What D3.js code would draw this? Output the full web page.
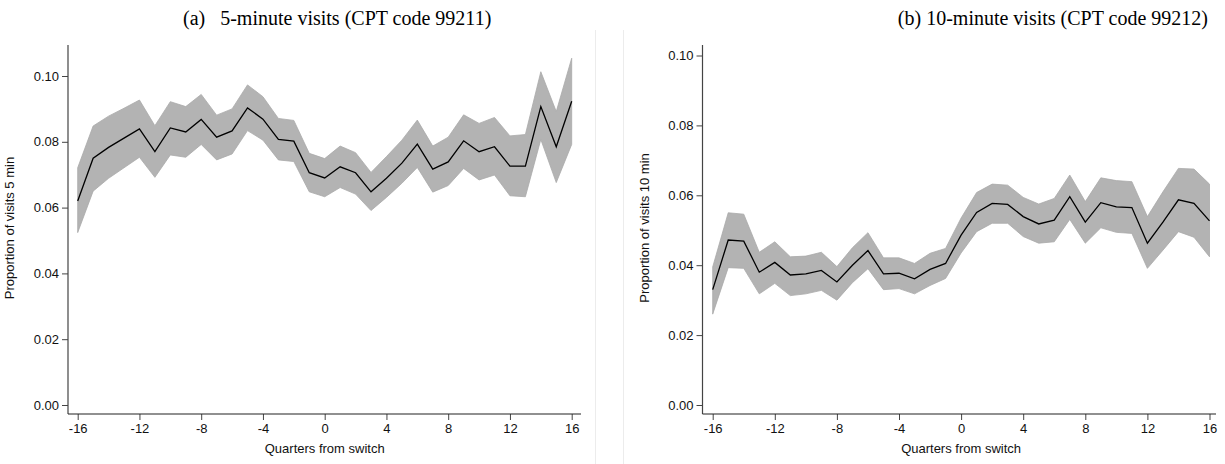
<!DOCTYPE html>
<html><head><meta charset="utf-8">
<script src="https://cdn.jsdelivr.net/npm/d3@7"></script>
<style>body{margin:0;background:#fff}svg{display:block}</style>
</head><body>
<svg id="c" width="1225" height="464"></svg>
<script>
const quarters = d3.range(-16, 17);
const xTicks = [-16,-12,-8,-4,0,4,8,12,16];
const yTicks = [0,0.02,0.04,0.06,0.08,0.10];

// Panel (a): 5-minute visits
const mean5 = [0.0620,0.0750,0.0783,0.0811,0.0839,0.0770,0.0842,0.0830,0.0868,0.0814,0.0833,0.0903,0.0869,0.0807,0.0802,0.0706,0.0690,
               0.0724,0.0706,0.0648,0.0689,0.0735,0.0793,0.0717,0.0739,0.0803,0.0770,0.0785,0.0726,0.0726,0.0907,0.0785,0.0923];
const upper5 = [0.0721,0.0848,0.0878,0.0902,0.0927,0.0849,0.0922,0.0907,0.0944,0.0881,0.0900,0.0973,0.0937,0.0871,0.0865,0.0765,0.0749,
                0.0787,0.0767,0.0707,0.0755,0.0805,0.0866,0.0787,0.0814,0.0882,0.0856,0.0874,0.0818,0.0822,0.1013,0.0892,0.1054];
const lower5 = [0.0524,0.0650,0.0689,0.0721,0.0753,0.0692,0.0760,0.0753,0.0792,0.0745,0.0763,0.0834,0.0805,0.0745,0.0740,0.0648,0.0633,
                0.0661,0.0641,0.0591,0.0631,0.0674,0.0722,0.0647,0.0667,0.0719,0.0684,0.0699,0.0636,0.0633,0.0807,0.0676,0.0792];

// Panel (b): 10-minute visits
const mean10 = [0.0330,0.0472,0.0469,0.0380,0.0408,0.0372,0.0375,0.0385,0.0352,0.0400,0.0442,0.0375,0.0377,0.0361,0.0388,0.0405,0.0486,
                0.0551,0.0577,0.0574,0.0539,0.0518,0.0529,0.0596,0.0523,0.0579,0.0567,0.0565,0.0463,0.0523,0.0587,0.0577,0.0527];
const upper10 = [0.0395,0.0550,0.0546,0.0437,0.0467,0.0424,0.0426,0.0437,0.0396,0.0450,0.0493,0.0421,0.0421,0.0405,0.0434,0.0448,0.0535,
                 0.0608,0.0632,0.0629,0.0594,0.0575,0.0591,0.0658,0.0582,0.0650,0.0642,0.0639,0.0539,0.0610,0.0677,0.0675,0.0632];
const lower10 = [0.0260,0.0393,0.0391,0.0318,0.0348,0.0313,0.0318,0.0328,0.0300,0.0350,0.0390,0.0330,0.0333,0.0318,0.0342,0.0362,0.0435,
                 0.0496,0.0520,0.0520,0.0482,0.0463,0.0467,0.0531,0.0463,0.0507,0.0494,0.0491,0.0391,0.0443,0.0496,0.0480,0.0424];

const svg = d3.select("#c");

// faint panel borders
svg.append("line").attr("x1",595.5).attr("x2",595.5).attr("y1",30).attr("y2",464).attr("stroke","#ececec");
svg.append("line").attr("x1",623.5).attr("x2",623.5).attr("y1",30).attr("y2",464).attr("stroke","#ececec");

function panel(opts){
  const {xL, xR, axX, axEnd, yTop, y0, y10, mean, upper, lower, ylab, title, titleX, titleAnchor} = opts;
  const x = d3.scaleLinear().domain([-16,16]).range([xL,xR]);
  const y = d3.scaleLinear().domain([0,0.10]).range([y0,y10]);
  const g = svg.append("g");
  const axisY = 414;
  const rows = quarters.map((q,i)=>({q, m:mean[i], u:upper[i], l:lower[i]}));
  g.append("path").datum(rows)
    .attr("d", d3.area().x(d=>x(d.q)).y0(d=>y(d.l)).y1(d=>y(d.u)))
    .attr("fill","#b3b3b3").attr("stroke","#a9a9a9").attr("stroke-width",0.8);
  g.append("path").datum(rows)
    .attr("d", d3.line().x(d=>x(d.q)).y(d=>y(d.m)))
    .attr("fill","none").attr("stroke","#000").attr("stroke-width",1.3);

  // y axis
  const ya = g.append("g").attr("transform",`translate(${axX},0)`)
    .call(d3.axisLeft(y).tickValues(yTicks).tickFormat(d3.format(".2f")).tickSize(6).tickPadding(3).tickSizeOuter(0));
  ya.select(".domain").remove();
  g.append("line").attr("x1",axX).attr("x2",axX).attr("y1",yTop).attr("y2",axisY).attr("stroke","#444").attr("stroke-width",1.2);
  // x axis
  const xa = g.append("g").attr("transform",`translate(0,${axisY})`)
    .call(d3.axisBottom(x).tickValues(xTicks).tickFormat(d3.format("d")).tickSize(6).tickPadding(4).tickSizeOuter(0));
  xa.select(".domain").remove();
  g.append("line").attr("x1",axX).attr("x2",axEnd).attr("y1",axisY).attr("y2",axisY).attr("stroke","#222").attr("stroke-width",1.2);
  g.selectAll(".tick line").attr("stroke","#444");
  g.selectAll(".tick text").attr("font-family","'Liberation Sans', Arial, sans-serif").attr("font-size",13).attr("fill","#111");
  xa.selectAll(".tick text").text(d=>d<0 ? "-"+Math.abs(d) : d);

  g.append("text").attr("x",(xL+xR)/2).attr("y",453).attr("text-anchor","middle")
    .attr("font-family","'Liberation Sans', Arial, sans-serif").attr("font-size",13).attr("fill","#111")
    .text("Quarters from switch");
  g.append("text").attr("transform",`translate(${axX-54},228) rotate(-90)`).attr("text-anchor","middle")
    .attr("font-family","'Liberation Sans', Arial, sans-serif").attr("font-size",13).attr("fill","#111")
    .text(ylab);
  g.append("text").attr("x",titleX).attr("y",25).attr("text-anchor",titleAnchor)
    .attr("font-family","'Liberation Serif', 'Times New Roman', serif").attr("font-size",20).attr("fill","#000")
    .attr("xml:space","preserve").style("white-space","pre")
    .text(title);
}

panel({xL:77.7, xR:571.7, axX:68, axEnd:581, yTop:45, y0:405, y10:76,
  mean:mean5, upper:upper5, lower:lower5, ylab:"Proportion of visits 5 min",
  title:"(a)   5-minute visits (CPT code 99211)", titleX:183, titleAnchor:"start"});
panel({xL:712.7, xR:1209.5, axX:702.5, axEnd:1216, yTop:45, y0:405, y10:55.5,
  mean:mean10, upper:upper10, lower:lower10, ylab:"Proportion of visits 10 min",
  title:"(b) 10-minute visits (CPT code 99212)", titleX:1208, titleAnchor:"end"});
</script>
</body></html>
